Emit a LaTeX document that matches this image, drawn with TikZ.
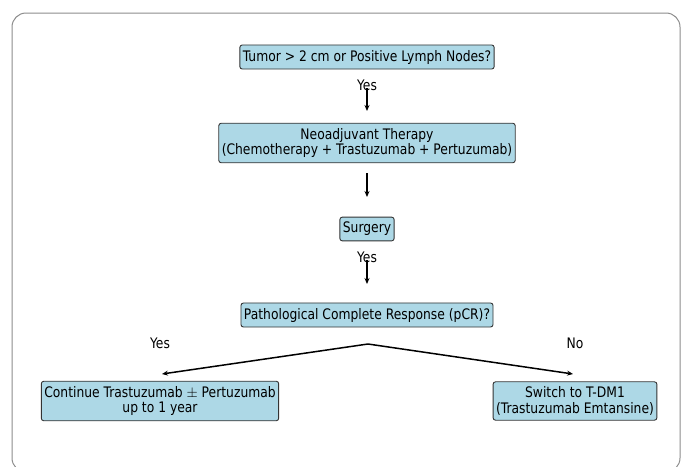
\documentclass[tikz,border=0pt]{standalone}
\usepackage{fontspec}
\setmainfont{DejaVu Sans}[FakeStretch=0.85]
\usetikzlibrary{arrows.meta}
\begin{document}
\begin{tikzpicture}[x=1pt,y=-1pt,
  box/.style={draw=black!80,line width=0.9pt,fill={rgb,255:red,173;green,216;blue,230},rounded corners=2.5pt,align=center,inner xsep=3pt,inner ysep=5pt,font=\fontsize{14.5}{15.5}\selectfont},
  lbl/.style={font=\fontsize{14.5}{15.5}\selectfont,inner sep=0pt},
  arr/.style={line width=1.5pt,-{Stealth[length=6pt,width=5pt]}}]
\useasboundingbox (0,0) rectangle (690,466);
\draw[black!45,line width=1pt,rounded corners=14pt] (12,13) rectangle (680,472);
\node[box] (tumor) at (367,57) {Tumor > 2 cm or Positive Lymph Nodes?};
\node[box] (neo) at (367,143) {Neoadjuvant Therapy\\(Chemotherapy + Trastuzumab + Pertuzumab)};
\node[box] (surg) at (367,229) {Surgery};
\node[box] (pcr) at (367,315) {Pathological Complete Response (pCR)?};
\node[box] (cont) at (160,401) {Continue Trastuzumab $\pm$ Pertuzumab\\up to 1 year};
\node[box] (sw) at (575,401) {Switch to T-DM1\\(Trastuzumab Emtansine)};
\node[lbl] (y1) at (367,85) {Yes};
\node[lbl] (y2) at (367,257) {Yes};
\node[lbl] (y3) at (160,343) {Yes};
\node[lbl] (n3) at (575,343) {No};
\coordinate (a1s) at (367,88); \coordinate (a1e) at (367,111);
\coordinate (a2s) at (367,173); \coordinate (a2e) at (367,197);
\coordinate (a3s) at (367,260); \coordinate (a3e) at (367,284);
\coordinate (bs) at (368,344); \coordinate (bl) at (162,374); \coordinate (br) at (573,374);
\draw[arr] (a1s) -- (a1e);
\draw[arr] (a2s) -- (a2e);
\draw[arr] (a3s) -- (a3e);
\draw[arr] (bs) -- (bl);
\draw[arr] (bs) -- (br);
\end{tikzpicture}
\end{document}
